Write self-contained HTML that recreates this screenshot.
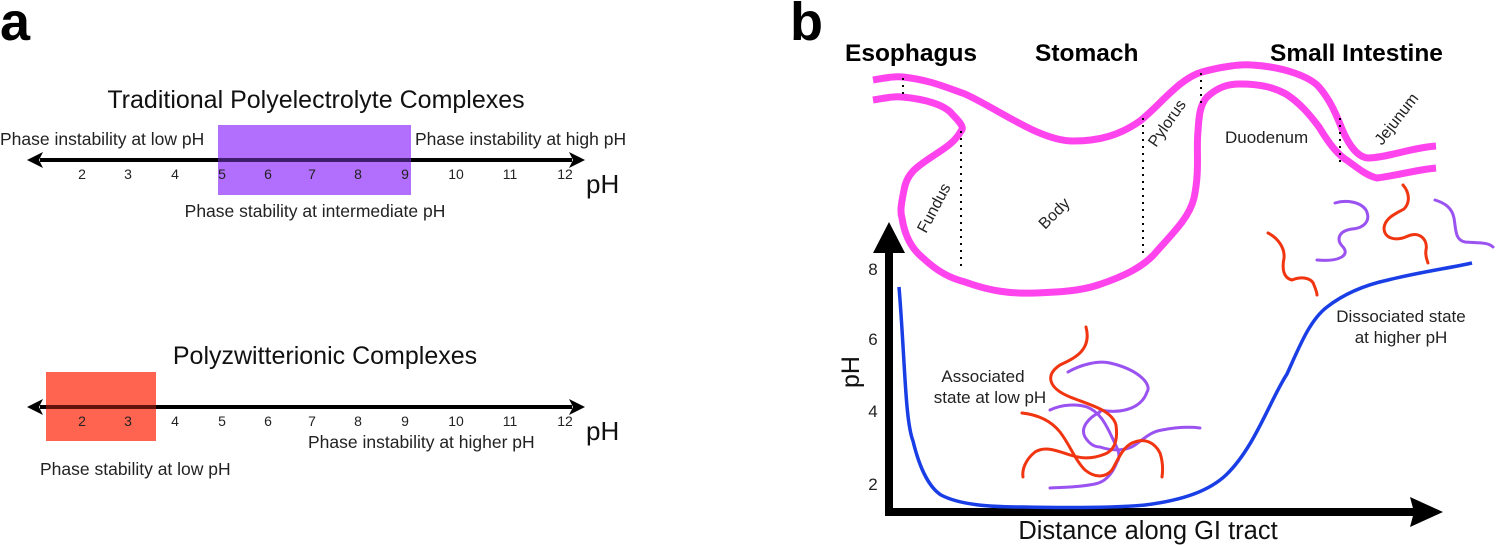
<!DOCTYPE html>
<html><head><meta charset="utf-8"><style>
html,body{margin:0;padding:0;background:#fff;}
svg{display:block;font-family:"Liberation Sans",Arial,sans-serif;}
</style></head><body>
<svg width="1497" height="545" viewBox="0 0 1497 545" xmlns="http://www.w3.org/2000/svg">
<rect width="1497" height="545" fill="#fff"/>
<!-- Panel a -->
<text x="0" y="40" font-size="54" font-weight="bold">a</text>
<text x="316" y="108" font-size="25" text-anchor="middle" fill="#111">Traditional Polyelectrolyte Complexes</text>
<rect x="218" y="125" width="193" height="70" fill="#b26efc"/>
<text x="0" y="145" font-size="17.5" fill="#222">Phase instability at low pH</text>
<text x="415" y="145" font-size="17.5" fill="#222">Phase instability at high pH</text>
<line x1="40" y1="160" x2="572" y2="160" stroke="#000" stroke-width="4"/>
<polygon points="27,160 43,152 39,160 43,168" fill="#000"/>
<polygon points="585,160 569,152 573,160 569,168" fill="#000"/>
<rect x="218" y="158" width="193" height="4" fill="#5a2a9a" opacity="0.7"/>
<g font-size="14" fill="#222" text-anchor="middle">
<text x="82" y="179">2</text><text x="128" y="179">3</text><text x="175" y="179">4</text><text x="222" y="179">5</text><text x="268" y="179">6</text><text x="312" y="179">7</text><text x="358" y="179">8</text><text x="405" y="179">9</text><text x="456" y="179">10</text><text x="510" y="179">11</text><text x="565" y="179">12</text>
</g>
<text x="586" y="193" font-size="26" fill="#111">pH</text>
<text x="315" y="217" font-size="17.5" text-anchor="middle" fill="#222">Phase stability at intermediate pH</text>

<text x="325" y="364" font-size="25" text-anchor="middle" fill="#111">Polyzwitterionic Complexes</text>
<rect x="46" y="372" width="110" height="69" fill="#ff6450"/>
<line x1="40" y1="407" x2="572" y2="407" stroke="#000" stroke-width="4"/>
<polygon points="27,407 43,399 39,407 43,415" fill="#000"/>
<polygon points="585,407 569,399 573,407 569,415" fill="#000"/>
<rect x="46" y="405" width="110" height="4" fill="#8a1a10" opacity="0.7"/>
<g font-size="14" fill="#222" text-anchor="middle">
<text x="82" y="426">2</text><text x="128" y="426">3</text><text x="175" y="426">4</text><text x="222" y="426">5</text><text x="268" y="426">6</text><text x="312" y="426">7</text><text x="358" y="426">8</text><text x="405" y="426">9</text><text x="456" y="426">10</text><text x="510" y="426">11</text><text x="565" y="426">12</text>
</g>
<text x="586" y="440" font-size="26" fill="#111">pH</text>
<text x="308" y="448" font-size="17.5" fill="#222">Phase instability at higher pH</text>
<text x="40" y="475" font-size="17.5" fill="#222">Phase stability at low pH</text>

<!-- Panel b -->
<text x="790" y="40" font-size="54" font-weight="bold">b</text>
<text x="845" y="61" font-size="24.5" font-weight="bold">Esophagus</text>
<text x="1035" y="61" font-size="24.5" font-weight="bold">Stomach</text>
<text x="1270" y="61" font-size="24.5" font-weight="bold">Small Intestine</text>

<g fill="none" stroke="#ff44ee" stroke-width="7" stroke-linecap="butt">
<path d="M873,80 C885,78 895,76 903,77 C930,80 945,87 965,94 C1000,110 1040,141 1073,141 C1100,141 1120,135 1140,121 C1160,105 1180,78 1202,72 C1220,67 1240,64 1252,65 C1285,67 1310,77 1319,87 C1330,100 1335,112 1340,124 C1348,145 1358,158 1369,158 C1390,157 1410,148 1436,146"/>
<path d="M873,100 C885,98 895,96 902,97 C925,99 945,105 952,114 C962,124 964,128 961,131 C955,142 945,148 936,154 C918,166 907,172 904,190 C901,205 900,212 902,218 C905,238 913,250 923,258 C938,272 950,278 965,282 C990,291 1010,294 1036,293 C1060,292 1080,291 1098,285 C1125,276 1145,266 1157,251 C1178,228 1190,215 1194,198 C1200,170 1196,150 1198,131 C1199,115 1200,105 1207,97 C1218,87 1228,84 1240,84 C1262,84 1275,88 1286,94 C1300,103 1310,115 1319,127 C1330,145 1338,155 1348,161 C1360,170 1368,176 1377,178 C1395,176 1415,170 1436,168"/>
</g>
<g stroke="#000" stroke-width="2" stroke-dasharray="2,5">
<line x1="903" y1="78" x2="903" y2="98"/>
<line x1="961" y1="131" x2="961" y2="270"/>
<line x1="1143" y1="118" x2="1143" y2="256"/>
<line x1="1201" y1="73" x2="1201" y2="108"/>
<line x1="1340" y1="118" x2="1340" y2="162"/>
</g>
<g font-size="16" fill="#222">
<text x="0" y="0" transform="translate(926,234) rotate(-62)">Fundus</text>
<text x="0" y="0" transform="translate(1045,230) rotate(-45)">Body</text>
<text x="0" y="0" transform="translate(1156,148) rotate(-55)">Pylorus</text>
<text x="1225" y="143" font-size="17">Duodenum</text>
<text x="0" y="0" transform="translate(1382,146) rotate(-52)">Jejunum</text>
</g>

<!-- squiggles -->
<g fill="none" stroke-width="3" stroke-linecap="round">
<path stroke="#9a52f0" d="M1068,372 C1080,365 1098,360 1110,363 C1140,370 1152,385 1147,392 C1140,412 1115,413 1100,410"/>
<path stroke="#9a52f0" d="M1050,410 C1062,404 1078,404 1087,407 C1100,412 1106,425 1110,433 C1117,448 1122,455 1117,462 C1112,475 1105,482 1095,484 C1075,488 1060,487 1050,488"/>
<path stroke="#9a52f0" d="M1100,412 C1088,418 1080,428 1085,437 C1090,445 1095,447 1100,447 C1115,452 1128,450 1135,445 C1145,438 1150,432 1162,430 C1178,427 1192,427 1200,428"/>
<path stroke="#f03510" d="M1086,327 C1092,350 1075,358 1060,365 C1045,375 1048,388 1070,397 C1090,405 1112,410 1116,425 C1118,440 1115,450 1105,454 C1090,460 1080,458 1070,455 C1055,450 1045,446 1035,452 C1025,460 1022,470 1023,477"/>
<path stroke="#f03510" d="M1022,413 C1040,415 1052,422 1060,432 C1070,445 1075,460 1085,470 C1095,478 1105,478 1112,470 C1118,460 1122,448 1132,443 C1145,437 1155,443 1160,453 C1163,462 1163,470 1162,477"/>
<path stroke="#f03510" d="M1268,233 C1278,238 1285,248 1284,258 C1282,268 1283,278 1292,280 C1302,276 1312,278 1314,285 C1316,290 1317,293 1317,295"/>
<path stroke="#9a52f0" d="M1335,203 C1345,200 1360,201 1366,210 C1371,220 1365,228 1352,229 C1338,231 1336,240 1343,247 C1350,255 1340,262 1317,260"/>
<path stroke="#f03510" d="M1403,185 C1410,193 1410,203 1404,209 C1395,214 1385,218 1384,228 C1384,238 1395,242 1408,236 C1420,231 1428,240 1426,250 C1425,256 1427,260 1428,263"/>
<path stroke="#9a52f0" d="M1435,200 C1445,203 1452,208 1454,218 C1456,230 1455,240 1465,242 C1478,243 1488,242 1493,247"/>
</g>

<!-- axes -->
<line x1="889" y1="248" x2="889" y2="516" stroke="#000" stroke-width="8"/>
<polygon points="889,222 873,253 905,253" fill="#000"/>
<line x1="885" y1="512" x2="1415" y2="512" stroke="#000" stroke-width="8"/>
<polygon points="1443,512 1410,497 1414,512 1410,527" fill="#000"/>
<g font-size="17" fill="#222" text-anchor="middle">
<text x="873" y="275">8</text><text x="873" y="345">6</text><text x="873" y="417">4</text><text x="873" y="490">2</text>
</g>
<text x="0" y="0" font-size="25" fill="#111" transform="translate(859,388) rotate(-90)">pH</text>
<text x="1148" y="539" font-size="25.5" text-anchor="middle" fill="#111">Distance along GI tract</text>

<path fill="none" stroke="#1a3ee6" stroke-width="3.5" d="M899,287 C905,360 905,420 913,441 C920,470 930,488 941,495 C960,505 990,507 1023,507 C1070,508 1110,508 1145,505 C1185,500 1210,490 1226,475 C1255,447 1270,400 1287,374 C1300,345 1310,320 1327,307 C1345,293 1365,285 1388,280 C1420,272 1450,268 1472,263"/>
<g font-size="17" fill="#222" text-anchor="middle">
<text x="983" y="382">Associated</text><text x="990" y="403">state at low pH</text>
<text x="1401" y="322">Dissociated state</text><text x="1401" y="343">at higher pH</text>
</g>
</svg>
</body></html>
